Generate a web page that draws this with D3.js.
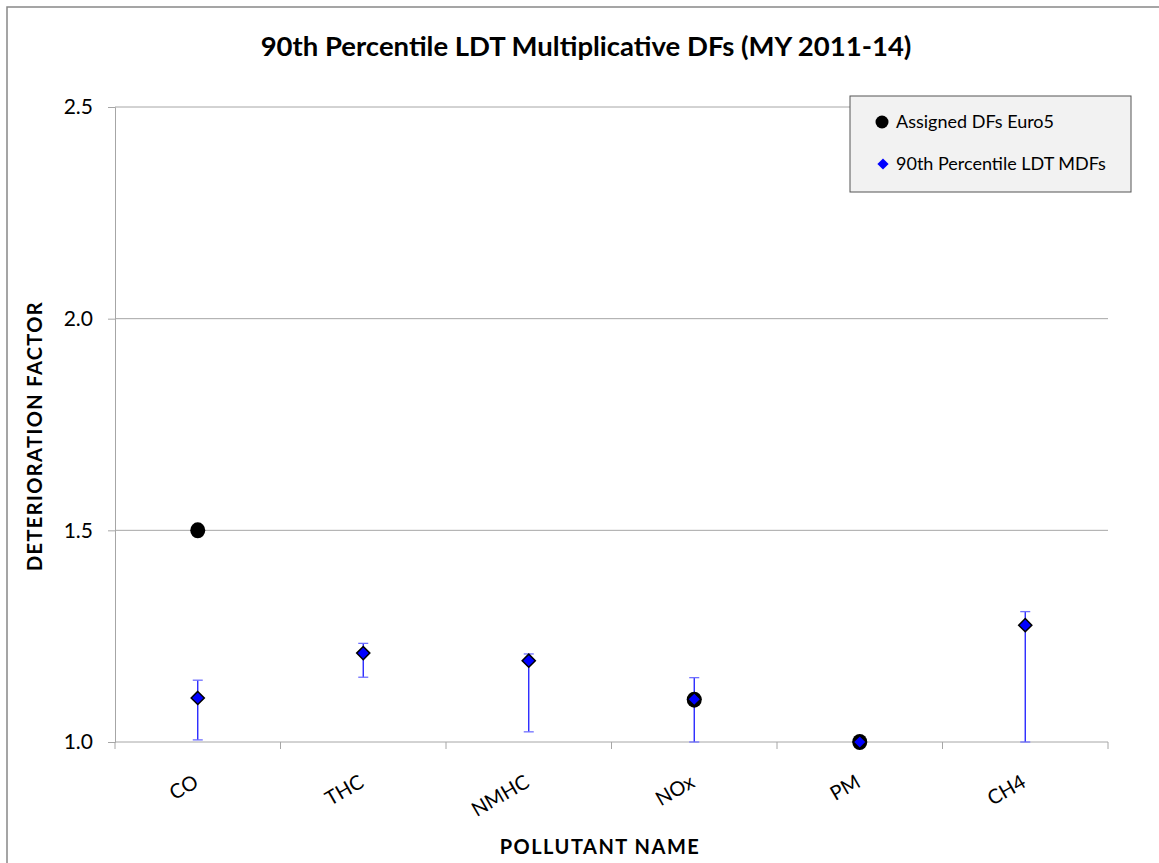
<!DOCTYPE html>
<html>
<head>
<meta charset="utf-8">
<script src="https://cdn.jsdelivr.net/npm/d3@7"></script>
<style>
  body { margin: 0; background: #fff; }
  text { font-family: Lato, "Open Sans", sans-serif; }
</style>
</head>
<body>
<svg width="1159" height="863"></svg>
<script>
// pollutants on the x axis
var pollutants = ["CO", "THC", "NMHC", "NOx", "PM", "CH4"];
// assigned DFs (Euro5) - only where a point is shown
var assigned = [1.5, null, null, 1.1, 1.0, null];
// 90th percentile LDT MDFs with error bar low / high
var mdf = [1.104, 1.21, 1.192, 1.101, 1.0, 1.276];
var mdfLow = [1.005, 1.153, 1.024, 1.0, 1.0, 1.0];
var mdfHigh = [1.146, 1.233, 1.208, 1.152, 1.0, 1.308];
var yTicks = [1.0, 1.5, 2.0, 2.5];

var svg = d3.select("svg"),
    width = +svg.attr("width"),
    height = +svg.attr("height");

var margin = {left: 115, right: 51, top: 107, bottom: 121};

// outer frame
svg.append("rect")
    .attr("x", 7).attr("y", 7)
    .attr("width", 1300).attr("height", 1000)
    .attr("fill", "none")
    .attr("stroke", "#888")
    .attr("stroke-width", 1.5);

var x = d3.scaleBand()
    .domain(pollutants)
    .range([margin.left, width - margin.right]);

var y = d3.scaleLinear()
    .domain([1.0, 2.5])
    .range([height - margin.bottom, margin.top]);

// gridlines
svg.append("g")
    .selectAll("line")
    .data(yTicks.slice(1))
    .enter()
    .append("line")
    .attr("x1", margin.left)
    .attr("x2", width - margin.right)
    .attr("y1", function(d) { return y(d); })
    .attr("y2", function(d) { return y(d); })
    .attr("stroke", "#a6a6a6")
    .attr("stroke-width", 1);

// y axis
var yAxis = svg.append("g")
    .attr("transform", "translate(" + margin.left + ",0)")
    .call(d3.axisLeft(y).tickValues(yTicks).tickFormat(d3.format(".1f")).tickSize(7).tickPadding(15));
yAxis.selectAll("path, line").attr("stroke", "#a6a6a6");
yAxis.selectAll("text")
    .attr("font-size", 21)
    .attr("fill", "#000")
    .style("font-family", "Lato, sans-serif");

// x axis, ticks at category boundaries
var xAxis = svg.append("g")
    .attr("transform", "translate(0," + y(1.0) + ")");
xAxis.append("line")
    .attr("x1", margin.left).attr("x2", width - margin.right)
    .attr("y1", 0).attr("y2", 0)
    .attr("stroke", "#a6a6a6");
var bounds = pollutants.map(function(p) { return x(p); }).concat([width - margin.right]);
xAxis.selectAll(".tk")
    .data(bounds)
    .enter()
    .append("line")
    .attr("x1", function(d) { return d; })
    .attr("x2", function(d) { return d; })
    .attr("y1", 0).attr("y2", 7)
    .attr("stroke", "#a6a6a6");
xAxis.selectAll(".lbl")
    .data(pollutants)
    .enter()
    .append("text")
    .attr("transform", function(d) {
        return "translate(" + (x(d) + x.bandwidth() / 2 + 2) + ",44) rotate(-30)";
    })
    .attr("text-anchor", "end")
    .attr("font-size", 20)
    .text(function(d) { return d; });

// error bars
var eb = svg.append("g")
    .selectAll("g")
    .data(pollutants)
    .enter()
    .append("g")
    .attr("stroke", "#1a1aff")
    .attr("stroke-width", 1.3);
eb.append("line")
    .attr("x1", function(d) { return x(d) + x.bandwidth() / 2; })
    .attr("x2", function(d) { return x(d) + x.bandwidth() / 2; })
    .attr("y1", function(d, i) { return y(mdfLow[i]); })
    .attr("y2", function(d, i) { return y(mdfHigh[i]); });
eb.selectAll(".cap")
    .data(function(d, i) {
        return mdfHigh[i] > mdfLow[i] ? [{p: d, v: mdfLow[i]}, {p: d, v: mdfHigh[i]}] : [];
    })
    .enter()
    .append("line")
    .attr("x1", function(d) { return x(d.p) + x.bandwidth() / 2 - 5; })
    .attr("x2", function(d) { return x(d.p) + x.bandwidth() / 2 + 5; })
    .attr("y1", function(d) { return y(d.v); })
    .attr("y2", function(d) { return y(d.v); })
    .attr("stroke", "#6f6fff");

// assigned DFs circles
svg.append("g")
    .selectAll("ellipse")
    .data(pollutants.filter(function(d, i) { return assigned[i] !== null; }))
    .enter()
    .append("ellipse")
    .attr("cx", function(d) { return x(d) + x.bandwidth() / 2; })
    .attr("cy", function(d) { return y(assigned[pollutants.indexOf(d)]); })
    .attr("rx", 7.5)
    .attr("ry", 8)
    .attr("fill", "#000");

// MDF diamonds
var diamond = d3.symbol().type(d3.symbolDiamond2).size(110);
svg.append("g")
    .selectAll("path")
    .data(pollutants)
    .enter()
    .append("path")
    .attr("d", diamond)
    .attr("transform", function(d, i) {
        return "translate(" + (x(d) + x.bandwidth() / 2) + "," + y(mdf[i]) + ")";
    })
    .attr("fill", "#0000ff")
    .attr("stroke", "#000")
    .attr("stroke-width", 1.5);

// title
svg.append("text")
    .attr("x", 586)
    .attr("y", 56)
    .attr("text-anchor", "middle")
    .attr("font-size", 27.5)
    .attr("font-weight", "bold")
    .text("90th Percentile LDT Multiplicative DFs (MY 2011-14)");

// axis titles
svg.append("text")
    .attr("transform", "translate(42,436) rotate(-90)")
    .attr("text-anchor", "middle")
    .attr("font-size", 20)
    .attr("font-weight", "bold")
    .attr("letter-spacing", 1.4)
    .text("DETERIORATION FACTOR");

svg.append("text")
    .attr("x", 600)
    .attr("y", 854)
    .attr("text-anchor", "middle")
    .attr("font-size", 20)
    .attr("font-weight", "bold")
    .attr("letter-spacing", 1.5)
    .text("POLLUTANT NAME");

// legend
var legend = svg.append("g").attr("transform", "translate(850,96)");
legend.append("rect")
    .attr("width", 281).attr("height", 96)
    .attr("fill", "#f2f2f2")
    .attr("stroke", "#555")
    .attr("stroke-width", 1);
legend.append("circle")
    .attr("cx", 32).attr("cy", 26).attr("r", 6.5)
    .attr("fill", "#000");
legend.append("path")
    .attr("d", d3.symbol().type(d3.symbolDiamond2).size(80))
    .attr("transform", "translate(33,68)")
    .attr("fill", "#0000ff");
legend.append("text")
    .attr("x", 46).attr("y", 32)
    .attr("font-size", 18)
    .text("Assigned DFs Euro5");
legend.append("text")
    .attr("x", 46).attr("y", 74)
    .attr("font-size", 18)
    .text("90th Percentile LDT MDFs");
</script>
</body>
</html>
